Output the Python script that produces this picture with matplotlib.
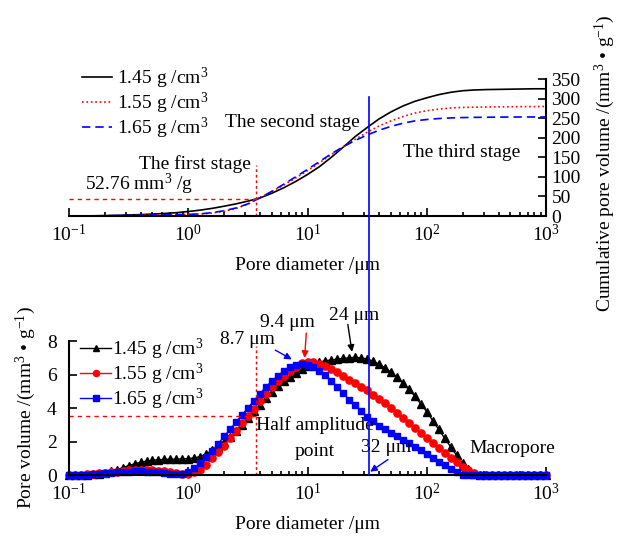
import matplotlib
matplotlib.use("Agg")
import matplotlib.pyplot as plt
import matplotlib.transforms as mtransforms
from matplotlib.lines import Line2D
import numpy as np

plt.rcParams['font.family'] = ['Liberation Serif', 'DejaVu Serif']
plt.rcParams['mathtext.fontset'] = 'custom'
plt.rcParams['mathtext.rm'] = 'Liberation Serif'
plt.rcParams['mathtext.it'] = 'Liberation Serif:italic'
plt.rcParams['font.size'] = 14

# cumulative curves, diameters 0.1 .. 1000 um (0.1 decade steps)
d_cum = np.logspace(-1, 3, 41)
cum_145 = [0, 0.2, 0.5, 1.0, 1.7, 2.6, 3.6, 5.0, 6.5, 8.5,
           11.5, 15, 19.5, 25, 31, 38, 46, 58, 72, 88,
           106, 126, 150, 176, 203, 226, 248, 266, 281, 293,
           302, 310, 316, 320, 322, 323, 323.5, 324, 324.5, 325, 325]
cum_155 = [0, 0.1, 0.3, 0.6, 1.0, 1.5, 2.0, 2.6, 3.1, 3.5,
           4.0, 5.0, 7.5, 12, 19, 30, 47, 62, 79, 97,
           116, 136, 157, 177, 196, 214, 230, 243, 254, 263,
           269, 273, 276, 277.5, 278, 278.5, 279, 279, 279.5, 279.5, 280]
cum_165 = [0, 0.1, 0.3, 0.6, 1.0, 1.5, 2.0, 2.5, 3.0, 3.4,
           4.0, 5.5, 8.5, 13.5, 20.5, 31, 46, 63, 81, 100,
           119, 139, 159, 177, 193, 207, 219, 229, 237, 243,
           246.5, 249, 250.5, 251.5, 252, 252.3, 252.6, 252.8, 253, 253, 253]

# pore volume distribution (0.05 decade steps)
d_pv = np.logspace(-1, 3, 81)
pv_145 = [0.00, 0.00, 0.01, 0.02, 0.04, 0.08, 0.14, 0.22, 0.32, 0.44,
          0.56, 0.67, 0.76, 0.83, 0.88, 0.91, 0.93, 0.94, 0.95, 0.96,
          0.98, 1.02, 1.10, 1.25, 1.48, 1.70, 1.95, 2.28, 2.62, 3.00,
          3.40, 3.80, 4.20, 4.60, 4.95, 5.30, 5.60, 5.88, 6.10, 6.30,
          6.48, 6.62, 6.74, 6.82, 6.87, 6.92, 6.96, 7.00, 7.02, 7.00,
          6.92, 6.80, 6.62, 6.40, 6.14, 5.84, 5.50, 5.12, 4.70, 4.25,
          3.78, 3.25, 2.72, 2.20, 1.68, 1.18, 0.72, 0.35, 0.08, 0.00,
          0, 0, 0, 0, 0, 0, 0, 0, 0, 0, 0]
pv_155 = [0.00, 0.01, 0.02, 0.04, 0.06, 0.09, 0.12, 0.16, 0.20, 0.24,
          0.27, 0.29, 0.30, 0.30, 0.29, 0.26, 0.21, 0.15, 0.10, 0.07,
          0.07, 0.15, 0.32, 0.62, 1.00, 1.35, 1.75, 2.20, 2.65, 3.10,
          3.50, 3.95, 4.40, 4.85, 5.25, 5.60, 5.92, 6.20, 6.45, 6.66,
          6.74, 6.72, 6.62, 6.48, 6.32, 6.12, 5.92, 5.70, 5.50, 5.28,
          5.07, 4.80, 4.55, 4.28, 4.00, 3.70, 3.40, 3.10, 2.80, 2.50,
          2.20, 1.90, 1.60, 1.30, 1.00, 0.75, 0.50, 0.30, 0.12, 0.00,
          0, 0, 0, 0, 0, 0, 0, 0, 0, 0, 0]
pv_165 = [0.00, 0.00, 0.01, 0.02, 0.04, 0.07, 0.10, 0.13, 0.16, 0.18,
          0.20, 0.21, 0.21, 0.20, 0.18, 0.15, 0.11, 0.08, 0.06, 0.08,
          0.20, 0.42, 0.70, 1.05, 1.45, 1.85, 2.30, 2.72, 3.15, 3.58,
          4.00, 4.42, 4.85, 5.25, 5.60, 5.92, 6.20, 6.42, 6.56, 6.62,
          6.55, 6.42, 6.22, 5.95, 5.62, 5.25, 4.88, 4.50, 4.15, 3.80,
          3.48, 3.20, 2.95, 2.72, 2.50, 2.30, 2.10, 1.90, 1.70, 1.48,
          1.25, 1.02, 0.80, 0.58, 0.35, 0.15, 0.00, 0, 0, 0,
          0, 0, 0, 0, 0, 0, 0, 0, 0, 0, 0]

labels = ['1.45 g /cm$^3$', '1.55 g /cm$^3$', '1.65 g /cm$^3$']

d_first = 3.73      # end of first stage
d_split = 32.8      # second/third stage boundary
cum_first = 44
half_amp = 3.55

fig = plt.figure(figsize=(6.25, 5.36), dpi=100)
ax1 = fig.add_axes([0.1104, 0.597, 0.7632, 0.2556])
ax2 = fig.add_axes([0.1104, 0.1138, 0.7632, 0.25])

for ax in (ax1, ax2):
    ax.set_xscale('log')
    ax.set_xlim(0.1, 1000)
    ax.tick_params(which='both', direction='in', width=1.2, labelsize=14)
    ax.tick_params(which='major', length=6)
    ax.tick_params(which='minor', length=3)
    ax.tick_params(axis='x', pad=6)
    ax.set_xlabel('Pore diameter /μm', labelpad=8)

# top panel
ax1.plot(d_cum, cum_145, color='black', lw=1.2, label=labels[0])
ax1.plot(d_cum, cum_155, color='red', lw=1.2, ls=':', label=labels[1])
ax1.plot(d_cum, cum_165, color='blue', lw=1.2, ls=(0, (5, 3)), label=labels[2])
ax1.set_ylim(0, 350)
ax1.set_yticks(np.arange(0, 351, 50))
ax1.yaxis.tick_right()
ax1.tick_params(axis='y', pad=4)
ax1.spines['left'].set_visible(False)
ax1.spines['top'].set_visible(False)
ax1.spines['right'].set_linewidth(1.5)
ax1.spines['bottom'].set_linewidth(1.5)
ax1.plot([d_first, d_first], [0, 130], color='red', lw=1, ls=(0, (2, 2)))
ax1.plot([0.1, d_first], [cum_first, cum_first], color='red', lw=1, ls=(0, (3, 3)))
ax1.text(7.4, 240, 'The second stage', ha='center', va='center')
ax1.text(195, 163, 'The third stage', ha='center', va='center')
ax1.text(1.13, 133, 'The first stage', ha='center', va='center')
ax1.text(0.386, 80, '52.76 mm$^3$ /g', ha='center', va='center')
ax1.legend(loc='upper left', bbox_to_anchor=(82 / 625, 1 - 66 / 536),
           bbox_transform=fig.transFigure, frameon=False, borderpad=0,
           borderaxespad=0, handlelength=1.55, handletextpad=0.25,
           labelspacing=-0.02, fontsize=14)
fig.text(605 / 625, 1 - 163 / 536,
         'Cumulative pore volume /(mm$^3$ • g$^{-1}$)',
         rotation=90, ha='center', va='center', fontsize=14)

# bottom panel
ax2.plot(d_pv, pv_145, color='black', marker='^', ms=5.4, lw=1,
         clip_on=False, label=labels[0])
ax2.plot(d_pv, pv_155, color='red', marker='o', ms=5.2, lw=1,
         clip_on=False, label=labels[1])
ax2.plot(d_pv, pv_165, color='blue', marker='s', ms=4.8, lw=1,
         clip_on=False, label=labels[2])
ax2.set_ylim(0, 8)
ax2.set_yticks([0, 2, 4, 6, 8])
ax2.tick_params(axis='y', pad=9)
ax2.spines['right'].set_visible(False)
ax2.spines['top'].set_visible(False)
ax2.spines['left'].set_linewidth(1.5)
ax2.spines['bottom'].set_linewidth(1.5)
ax2.set_ylabel('Pore volume /(mm$^3$ • g$^{-1}$)', labelpad=6)
ax2.plot([d_first, d_first], [0, 7.7], color='red', lw=1, ls=(0, (2, 2)))
ax2.plot([0.1, d_first], [half_amp, half_amp], color='red', lw=1, ls=(0, (3, 3)))
ax2.legend(loc='upper left', bbox_to_anchor=(80 / 625, 1 - 337 / 536),
           bbox_transform=fig.transFigure, frameon=False, borderpad=0,
           borderaxespad=0, handlelength=1.6, handletextpad=0.05,
           labelspacing=-0.02, fontsize=14, markerscale=0.85)

ax2.text(3.16, 8.06, '8.7 μm', ha='center', va='center')
ax2.text(6.82, 9.13, '9.4 μm', ha='center', va='center')
ax2.text(24.4, 9.55, '24 μm', ha='center', va='center')
ax2.text(11.5, 3.0, 'Half amplitude', ha='center', va='center')
ax2.text(11.5, 1.38, 'point', ha='center', va='center')
ax2.text(45.2, 1.67, '32 μm', ha='center', va='center')
ax2.text(524, 1.61, 'Macropore', ha='center', va='center')

arrow = dict(arrowstyle='-|>', lw=1, mutation_scale=10, shrinkA=0)
ax2.annotate('', xy=(8.7, 6.62), xytext=(-25, 14), textcoords='offset pixels',
             arrowprops=dict(arrow, color='blue', shrinkB=7))
ax2.annotate('', xy=(9.4, 6.74), xytext=(2, 29), textcoords='offset pixels',
             arrowprops=dict(arrow, color='red', shrinkB=3))
ax2.annotate('', xy=(24, 7.02), xytext=(-5, 33), textcoords='offset pixels',
             arrowprops=dict(arrow, color='black', shrinkB=4))
ax2.annotate('', xy=(d_split, 0.15), xytext=(19, 13), textcoords='offset pixels',
             arrowprops=dict(arrow, color='blue', shrinkB=1))

# boundary line crossing both panels
trans = mtransforms.blended_transform_factory(ax2.transData, fig.transFigure)
fig.add_artist(Line2D([d_split, d_split], [1 - 475 / 536, 1 - 97 / 536],
                      transform=trans, color='blue', lw=1.2))

fig.savefig('out.png', dpi=100)
